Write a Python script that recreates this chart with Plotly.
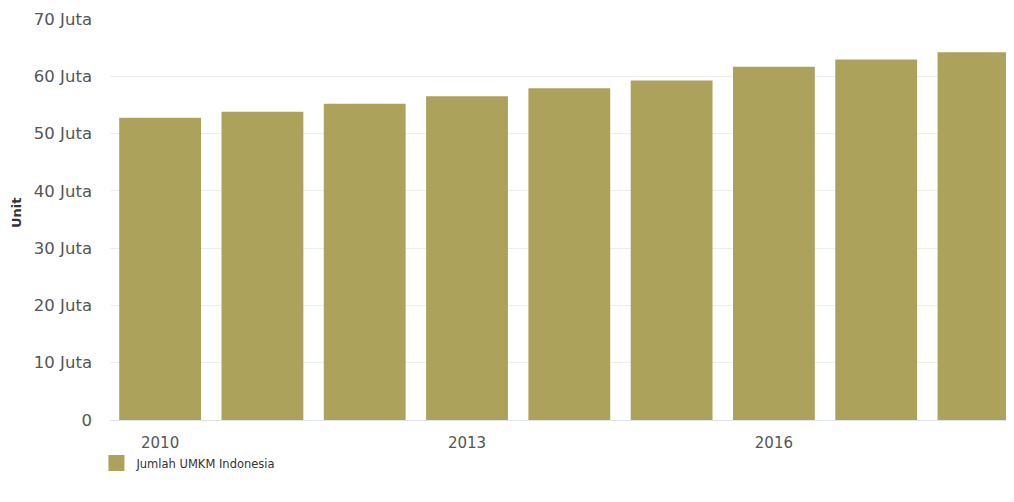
import plotly.graph_objects as go

years = ["2010", "2011", "2012", "2013", "2014", "2015", "2016", "2017", "2018"]
umkm_juta = [52.76, 53.82, 55.21, 56.53, 57.89, 59.26, 61.65, 62.92, 64.19]
series_name = "Jumlah UMKM Indonesia"
y_tickvals = [0, 10, 20, 30, 40, 50, 60, 70]
y_ticktext = ["0", "10 Juta", "20 Juta", "30 Juta", "40 Juta", "50 Juta", "60 Juta", "70 Juta"]
x_tickvals = ["2010", "2013", "2016"]
y_title = "Unit"

FONT = "DejaVu Sans"
BAR = "#ADA25B"
W, H = 1006, 494  # page body has an 8px margin
L, T, B = 102, 11, 82
fig = go.Figure()
fig.add_trace(go.Bar(
    x=years, y=umkm_juta, name=series_name, showlegend=False,
    marker=dict(color=BAR, line=dict(width=0)),
    width=0.8,
))
# legend entry with a larger square swatch
fig.add_trace(go.Scatter(
    x=[None], y=[None], mode="markers", name=series_name,
    marker=dict(symbol="square", size=16, color=BAR),
))
fig.update_layout(
    width=W, height=H,
    margin=dict(l=L, r=0, t=T, b=B, autoexpand=False),
    paper_bgcolor="white", plot_bgcolor="white",
    font=dict(family=FONT, size=14, color="#555555"),
    bargap=0.2,
    showlegend=True,
    legend=dict(orientation="h", xref="paper", x=-0.015, xanchor="left",
                yref="container", y=1 - 455 / H, yanchor="middle",
                itemwidth=30,
                font=dict(family=FONT, size=11.5, color="#333333")),
)
fig.update_xaxes(
    type="category", range=[-0.49, 8.347],
    tickmode="array", tickvals=x_tickvals, ticktext=x_tickvals,
    showgrid=False, showline=False, ticks="", automargin=False,
    tickfont=dict(size=15, color="#555555"), ticklabelstandoff=12,
)
fig.update_yaxes(
    range=[0, 70], tickvals=y_tickvals, ticktext=y_ticktext,
    showgrid=True, gridcolor="#EEEEEE", gridwidth=1, automargin=False,
    zeroline=True, zerolinecolor="#DDE3EA", zerolinewidth=1,
    tickfont=dict(size=16.5, color="#555555"), ticklabelstandoff=17,
)
fig.add_annotation(
    text="<b>" + y_title + "</b>", textangle=-90,
    xref="paper", yref="paper", x=(9 - L) / (W - L), y=(412 - 205) / 401,
    xanchor="center", yanchor="middle", showarrow=False,
    font=dict(family=FONT, size=13, color="#333333"),
)
fig.write_html("out.html")
